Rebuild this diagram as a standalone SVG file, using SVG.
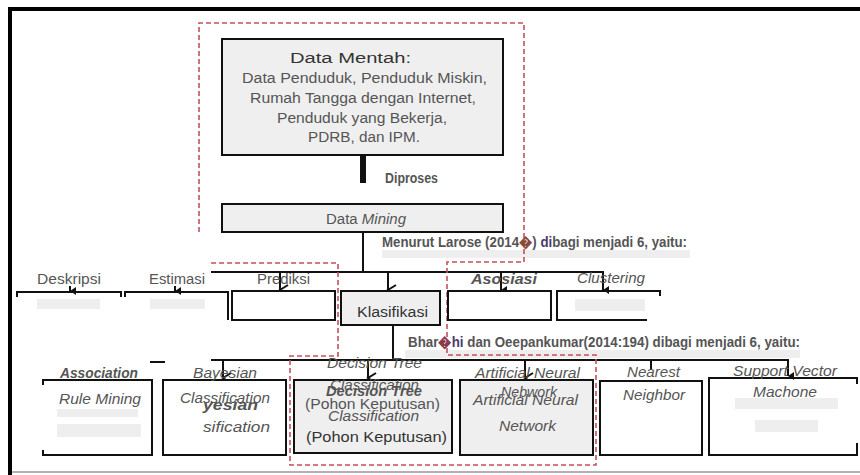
<svg xmlns="http://www.w3.org/2000/svg" width="860" height="475" viewBox="0 0 860 475">
<style>
.box{fill:#fff;stroke:#111;stroke-width:2}
.boxg{fill:#efefef;stroke:#111;stroke-width:2}
.ln{stroke:#111;stroke-width:2;fill:none}
.dash{stroke:#c2505c;stroke-width:1.6;stroke-dasharray:5 3;fill:none}
.ghost{fill:#eeeeee}
.t{font-family:"Liberation Sans",Arial,sans-serif;fill:#555;font-size:14px}
.dk{fill:#333}
.b{font-weight:bold}
.i{font-style:italic}
</style>
<defs>
<marker id="chev" markerUnits="userSpaceOnUse" markerWidth="14" markerHeight="12" refX="6" refY="9" orient="auto-start-reverse" viewBox="0 0 14 12">
<path d="M1,1 L6,9 L11,1" fill="none" stroke="#111" stroke-width="2"/>
</marker>
<marker id="tri" markerUnits="userSpaceOnUse" markerWidth="10" markerHeight="8" refX="4" refY="6" viewBox="0 0 10 8" orient="auto">
<path d="M0,0 L8,0 L4,6 Z" fill="#111"/>
</marker>
</defs>
<rect width="860" height="475" fill="#fff"/>
<g id="frame">
<line x1="8" y1="9" x2="860" y2="9" stroke="#000" stroke-width="4"/>
<line x1="10" y1="7" x2="10" y2="475" stroke="#000" stroke-width="4"/>
<line x1="12" y1="472" x2="860" y2="472" stroke="#999" stroke-width="1.5"/>
</g>
<g id="ghosts">
<rect class="ghost" x="382" y="250" width="308" height="8"/>
<rect class="ghost" x="405" y="350" width="395" height="8"/>
<rect class="ghost" x="37" y="299" width="63" height="10"/>
<rect class="ghost" x="150" y="299" width="55" height="10"/>
<rect class="ghost" x="257" y="299" width="55" height="10"/>
<rect class="ghost" x="471" y="298" width="59" height="11"/>
<rect class="ghost" x="575" y="299" width="70" height="12"/>
<rect class="ghost" x="57" y="409" width="81" height="8"/>
<rect class="ghost" x="57" y="424" width="84" height="13"/>
<rect class="ghost" x="178" y="424" width="24" height="13"/>
<rect class="ghost" x="627" y="409" width="55" height="8"/>
<rect class="ghost" x="627" y="423" width="58" height="12"/>
<rect class="ghost" x="735" y="398" width="103" height="11"/>
<rect class="ghost" x="755" y="420" width="63" height="12"/>
</g>
<g id="connectors">
<rect x="360" y="156" width="6" height="27" fill="#111"/>
<line class="ln" x1="363" y1="232" x2="363" y2="272"/>
<line class="ln" x1="211" y1="272" x2="604" y2="272"/>
<line class="ln" x1="280" y1="272" x2="280" y2="290" marker-end="url(#chev)"/>
<line class="ln" x1="388" y1="272" x2="388" y2="290" marker-end="url(#chev)"/>
<line class="ln" x1="501" y1="272" x2="501" y2="290" marker-end="url(#tri)"/>
<line class="ln" x1="603" y1="272" x2="603" y2="290" marker-end="url(#tri)"/>
<line class="ln" x1="70" y1="286" x2="70" y2="291" marker-end="url(#tri)"/>
<line class="ln" x1="175" y1="286" x2="175" y2="291" marker-end="url(#tri)"/>
<line class="ln" x1="393" y1="325" x2="393" y2="360"/>
<line class="ln" x1="211" y1="360" x2="789" y2="360"/>
<line x1="150" y1="362" x2="165" y2="362" stroke="#111" stroke-width="2"/>
<line class="ln" x1="223" y1="360" x2="223" y2="378" marker-end="url(#chev)"/>
<line class="ln" x1="368" y1="360" x2="368" y2="378" marker-end="url(#chev)"/>
<line class="ln" x1="525" y1="360" x2="525" y2="378" marker-end="url(#chev)"/>
<line class="ln" x1="651" y1="360" x2="651" y2="370"/>
<line class="ln" x1="788" y1="360" x2="788" y2="376" marker-end="url(#tri)"/>
</g>
<g id="dashed-regions">
<path class="dash" d="M199,232 L199,23 L524,23 L524,262 L447,262 L447,355 L596,355 L596,465 L290,465 L290,356 L338,356 L338,263 L211,263"/>
</g>
<g id="data-mentah">
<rect class="boxg" x="222" y="39" width="281" height="116"/>
<text class="t dk" x="290" y="63" textLength="121" lengthAdjust="spacingAndGlyphs" font-size="15">Data Mentah:</text>
<text class="t" x="242" y="83" textLength="245" lengthAdjust="spacingAndGlyphs" font-size="15">Data Penduduk, Penduduk Miskin,</text>
<text class="t" x="250" y="103" textLength="226" lengthAdjust="spacingAndGlyphs" font-size="15">Rumah Tangga dengan Internet,</text>
<text class="t" x="277" y="123" textLength="170" lengthAdjust="spacingAndGlyphs" font-size="15">Penduduk yang Bekerja,</text>
<text class="t" x="308" y="142" textLength="112" lengthAdjust="spacingAndGlyphs" font-size="15">PDRB, dan IPM.</text>
</g>
<g id="diproses">
<text class="t b" x="385" y="183" textLength="53" lengthAdjust="spacingAndGlyphs" font-size="12.5" fill="#444">Diproses</text>
</g>
<g id="data-mining">
<rect class="boxg" x="222" y="204" width="281" height="28"/>
<text class="t" x="326" y="224" textLength="80" lengthAdjust="spacingAndGlyphs" font-size="15.5">Data <tspan class="i">Mining</tspan></text>
</g>
<g id="larose-label">
<text class="t b" x="382" y="247" textLength="305" lengthAdjust="spacingAndGlyphs" font-size="12.5" fill="#4a4a4a">Menurut Larose (2014<tspan fill="#8a4a3a">&#xFFFD;</tspan>) <tspan fill="#4a3a6a">di</tspan>bagi menjadi 6, yaitu:</text>
</g>
<g id="deskripsi">
<path class="ln" d="M17,297 L17,292 L121,292 L121,297"/>
<text class="t" x="37" y="284" textLength="64" lengthAdjust="spacingAndGlyphs">Deskripsi</text>
</g>
<g id="estimasi">
<path class="ln" d="M125,297 L125,292 L228,292 L228,320"/>
<text class="t" x="149" y="284" textLength="56" lengthAdjust="spacingAndGlyphs">Estimasi</text>
</g>
<g id="prediksi">
<rect class="box" x="232" y="291" width="103" height="29"/>
<text class="t" x="257" y="284" textLength="53" lengthAdjust="spacingAndGlyphs">Prediksi</text>
</g>
<g id="klasifikasi">
<rect class="boxg" x="341" y="291" width="99" height="34"/>
<text class="t dk" x="357" y="317" textLength="71" lengthAdjust="spacingAndGlyphs" font-size="15">Klasifikasi</text>
</g>
<g id="asosiasi">
<rect class="box" x="448" y="291" width="103" height="29"/>
<text class="t b i" x="471" y="284" textLength="66" lengthAdjust="spacingAndGlyphs" font-size="14.5">Asosiasi</text>
</g>
<g id="clustering">
<path class="ln" d="M647,320 L557,320 L557,291 L660,291 L660,296"/>
<text class="t i" x="577" y="283" textLength="68" lengthAdjust="spacingAndGlyphs" font-size="14.5">Clustering</text>
</g>
<g id="bharathi-label">
<text class="t b" x="408" y="347" textLength="392" lengthAdjust="spacingAndGlyphs" font-size="12.5" fill="#4a4a4a">Bhar<tspan fill="#8a3a4a">&#xFFFD;</tspan><tspan fill="#4a3a6a">hi</tspan> dan Oeepankumar(2014:194) dibagi menjadi 6, yaitu:</text>
</g>
<g id="association">
<path class="ln" d="M43,385 L43,380 L152,380 L152,455 L43,455 L43,450"/>
<text class="t b i" x="60" y="378" textLength="78" lengthAdjust="spacingAndGlyphs" fill="#4a4a5a">Association</text>
<text class="t i" x="59" y="404" textLength="82" lengthAdjust="spacingAndGlyphs">Rule Mining</text>
</g>
<g id="bayesian">
<rect class="box" x="163" y="380" width="123" height="75"/>
<text class="t i" x="193" y="378" textLength="64" lengthAdjust="spacingAndGlyphs">Bayesian</text>
<text class="t i" x="180" y="403" textLength="90" lengthAdjust="spacingAndGlyphs">Classification</text>
<text class="t b i" x="203" y="410" textLength="55" lengthAdjust="spacingAndGlyphs" fill="#444">yesian</text>
<text class="t i" x="203" y="432" textLength="67" lengthAdjust="spacingAndGlyphs" fill="#444">sification</text>
</g>
<g id="decision-tree">
<rect class="boxg" x="294" y="380" width="158" height="73"/>
<text class="t i" x="327" y="368" textLength="95" lengthAdjust="spacingAndGlyphs" fill="#777">Decision  Tree</text>
<text class="t i" x="330" y="390" textLength="89" lengthAdjust="spacingAndGlyphs" fill="#777">Classification</text>
<text class="t b i" x="326" y="396" textLength="96" lengthAdjust="spacingAndGlyphs" fill="#555">Decision Tree</text>
<text class="t" x="305" y="409" textLength="135" lengthAdjust="spacingAndGlyphs" fill="#777">(Pohon Keputusan)</text>
<text class="t i" x="328" y="421" textLength="91" lengthAdjust="spacingAndGlyphs">Classification</text>
<text class="t dk" x="306" y="442" textLength="141" lengthAdjust="spacingAndGlyphs">(Pohon Keputusan)</text>
</g>
<g id="ann">
<rect class="boxg" x="460" y="380" width="133" height="75"/>
<text class="t i" x="475" y="378" textLength="105" lengthAdjust="spacingAndGlyphs" fill="#777">Artificial Neural</text>
<text class="t i" x="501" y="397" textLength="56" lengthAdjust="spacingAndGlyphs" fill="#777">Nebwork</text>
<text class="t i" x="473" y="405" textLength="105" lengthAdjust="spacingAndGlyphs" fill="#444">Artificial Neural</text>
<text class="t i" x="499" y="431" textLength="57" lengthAdjust="spacingAndGlyphs" fill="#444">Network</text>
</g>
<g id="nearest-neighbor">
<rect class="box" x="600" y="381" width="102" height="74"/>
<text class="t i" x="627" y="377" textLength="53" lengthAdjust="spacingAndGlyphs">Nearest</text>
<text class="t i" x="623" y="400" textLength="62" lengthAdjust="spacingAndGlyphs">Neighbor</text>
</g>
<g id="svm">
<path class="ln" d="M857,384 L857,378 L709,378 L709,455 L857,455 L857,443"/>
<text class="t i" x="733" y="376" textLength="104" lengthAdjust="spacingAndGlyphs">Support Vector</text>
<text class="t i" x="753" y="397" textLength="64" lengthAdjust="spacingAndGlyphs">Machone</text>
</g>
</svg>
